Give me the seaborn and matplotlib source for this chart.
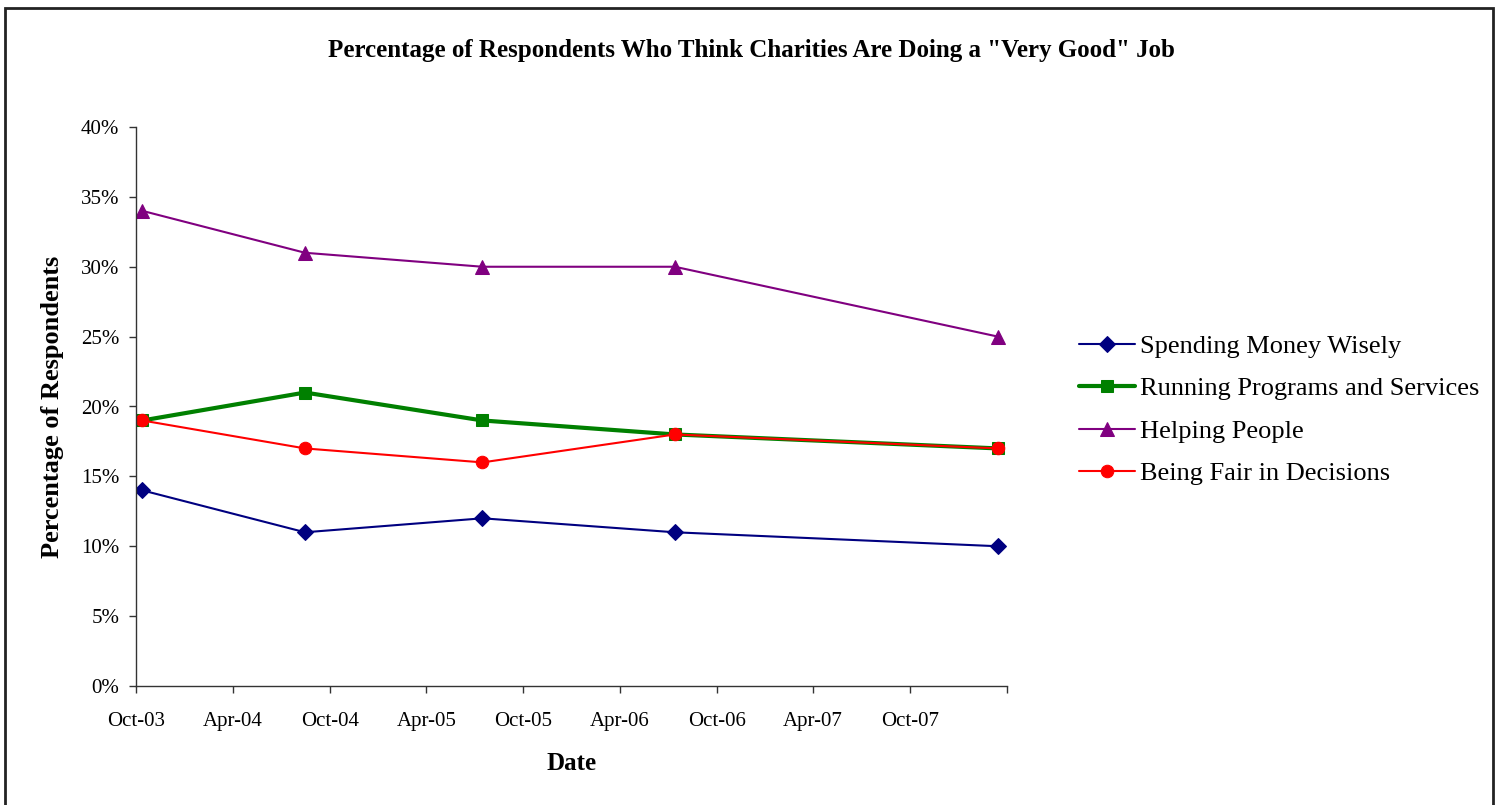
import pandas as pd
import seaborn as sns
import matplotlib.pyplot as plt
from matplotlib.ticker import PercentFormatter
from matplotlib.patches import Rectangle

# survey dates
dates = pd.to_datetime(["2003-10-13", "2004-08-15", "2005-07-16", "2006-07-14", "2008-03-15"])

spending = [0.14, 0.11, 0.12, 0.11, 0.10]
running = [0.19, 0.21, 0.19, 0.18, 0.17]
helping = [0.34, 0.31, 0.30, 0.30, 0.25]
fair = [0.19, 0.17, 0.16, 0.18, 0.17]

series_names = ["Spending Money Wisely", "Running Programs and Services",
                "Helping People", "Being Fair in Decisions"]

sns.set_theme(style="white")
plt.rcParams['font.family'] = ['Liberation Serif', 'DejaVu Serif']
plt.rcParams['text.color'] = 'black'
plt.rcParams['axes.labelcolor'] = 'black'
plt.rcParams['xtick.color'] = 'black'
plt.rcParams['ytick.color'] = 'black'

fig = plt.figure(figsize=(14.97, 8.05), dpi=100)
ax = fig.add_axes([136/1497, 1-686/805, (1007-136)/1497, (686-127)/805])

styles = [
    (spending, "#000080", "D", 1.5, 8),
    (running, "#008000", "s", 3.0, 8.5),
    (helping, "#800080", "^", 1.5, 10.5),
    (fair, "#FF0000", "o", 1.5, 9),
]
for name, (vals, col, mk, lw, ms) in zip(series_names, styles):
    sns.lineplot(x=dates, y=vals, ax=ax, color=col, marker=mk, linewidth=lw,
                 markersize=ms, markeredgecolor=col, label=name)

ax.set_xlim(pd.Timestamp("2003-10-01"), pd.Timestamp("2008-04-01"))
ax.set_ylim(0, 0.40)
ax.set_yticks([i * 0.05 for i in range(9)])
ax.yaxis.set_major_formatter(PercentFormatter(1.0, decimals=0))
tick_dates = pd.date_range("2003-10-01", "2008-04-01", freq="6MS")
labels = [d.strftime("%b-%y") for d in tick_dates]
ax.set_xticks(tick_dates)
ax.set_xticklabels(labels[:-1] + [""])

for s in ["top", "right"]:
    ax.spines[s].set_visible(False)
for s in ["left", "bottom"]:
    ax.spines[s].set_color("#333333")
    ax.spines[s].set_linewidth(1.0)
ax.tick_params(axis="both", which="major", direction="out", length=5, width=1,
               color="#333333", labelsize=15, left=True, bottom=True)
ax.tick_params(axis="x", pad=14)
ax.tick_params(axis="y", pad=7)
ax.grid(False)

ax.set_xlabel("Date", fontsize=18, fontweight="bold", labelpad=15)
ax.set_ylabel("Percentage of Respondents", fontsize=19, fontweight="bold", labelpad=12)
fig.text(0.5 * (318 + 1185) / 1497, 1 - 51/805,
         'Percentage of Respondents Who Think Charities Are Doing a "Very Good" Job',
         ha="center", va="center", fontsize=18, fontweight="bold")

ax.legend(loc="center left", bbox_to_anchor=(1.083, 0.494), frameon=False,
          fontsize=19, handlelength=2.1, handletextpad=0.2, labelspacing=0.72,
          borderaxespad=0, borderpad=0)

fig.patches.append(Rectangle((5/1497, -0.01), (1493-5)/1497, 1.01 - 8/805,
                             transform=fig.transFigure, fill=False,
                             edgecolor="#222222", linewidth=2))

fig.savefig("out.png", dpi=100)
